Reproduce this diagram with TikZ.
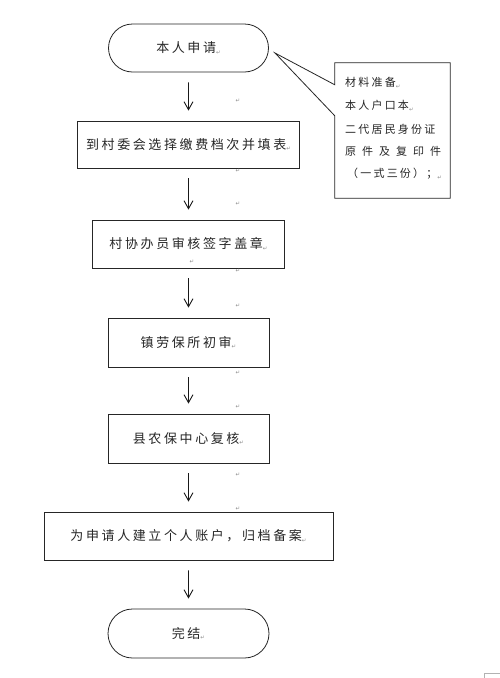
\documentclass[tikz,border=0pt]{standalone}
\usepackage{fontspec}
\usetikzlibrary{shapes.misc,arrows.meta,calc}
\newfontfamily\cjk[LetterSpace=20]{Noto Sans CJK SC}
\newfontfamily\cjknote[LetterSpace=20]{Noto Sans CJK SC}
\newfontfamily\symf{DejaVu Sans}
\newcommand\parmk{\raisebox{-1.5pt}{\textcolor{black!45}{\fontsize{5.5}{6}\selectfont\symf ↵}}}
\tikzset{
  every node/.style={text=black!85},
  term/.style={rounded rectangle, draw=black!85, line width=0.8pt, minimum width=160pt, minimum height=48pt, inner sep=0pt, font=\fontsize{13}{15}\selectfont\cjk},
  stepbox/.style={rectangle, draw=black!85, line width=0.8pt, inner sep=0pt, font=\fontsize{13}{15}\selectfont\cjk},
  arr/.style={draw=black!90, line width=0.9pt, -{Straight Barb[length=8pt,width=9pt]}, shorten <=10pt, shorten >=10pt},
  noteline/.style={anchor=west, inner sep=0pt, font=\fontsize{11}{13}\selectfont\cjknote},
  pmk/.style={inner sep=0pt, text=black!45, font=\fontsize{5.5}{6}\selectfont\symf},
}
\begin{document}
\begin{tikzpicture}[x=1pt,y=-1pt]
\useasboundingbox[fill=white] (0,0) rectangle (500,678);

\node[term] (start) at (188.5,48) {本人申请\parmk};
\node[stepbox, minimum width=222pt, minimum height=47pt] (b2) at (188.5,144.5) {到村委会选择缴费档次并填表\parmk};
\node[stepbox, minimum width=192pt, minimum height=48pt] (b3) at (188.5,244) {村协办员审核签字盖章\parmk};
\node[stepbox, minimum width=161pt, minimum height=49pt] (b4) at (188.5,342.5) {镇劳保所初审\parmk};
\node[stepbox, minimum width=161pt, minimum height=49pt] (b5) at (188.5,438.5) {县农保中心复核\parmk};
\node[stepbox, minimum width=289pt, minimum height=48pt] (b6) at (188.5,536) {为申请人建立个人账户，归档备案\parmk};
\node[term, minimum width=161pt, minimum height=49pt] (end) at (188.5,633.5) {完结\parmk};

\draw[arr] (start) -- (b2);
\draw[arr] (b2) -- (b3);
\draw[arr] (b3) -- (b4);
\draw[arr] (b4) -- (b5);
\draw[arr] (b5) -- (b6);
\draw[arr] (b6) -- (end);

% callout
\node[minimum width=115pt, minimum height=135pt, inner sep=0pt] (note) at (392.5,130.5) {};
\coordinate (tip) at (275,53);
\draw[black!85, line width=0.8pt, line join=miter]
  ($(note.north west)+(0,22)$) -- (note.north west) -- (note.north east) -- (note.south east) -- (note.south west)
  -- ($(note.north west)+(0,53)$) -- (tip) -- cycle;
\node[noteline] (n1) at (345,83) {材料准备\parmk};
\node[noteline] (n2) at (345,106) {本人户口本\parmk};
\node[noteline] (n3) at (345,129) {二代居民身份证};
\node[noteline] (n4) at (345,151) {\makebox[96pt][s]{原\hfill 件\hfill 及\hfill 复\hfill 印\hfill 件}};
\node[noteline] (n5) at (347,174) {（一式三份）；\parmk};

% stray paragraph marks
\node[pmk] (m1) at (238,101) {↵};
\node[pmk] (m2) at (238,171) {↵};
\node[pmk] (m3) at (238,204) {↵};
\node[pmk] (m4) at (192,262) {↵};
\node[pmk] (m5) at (238,271) {↵};
\node[pmk] (m6) at (238,306) {↵};
\node[pmk] (m7) at (238,373) {↵};
\node[pmk] (m8) at (238,407) {↵};
\node[pmk] (m9) at (238,475) {↵};
\node[pmk] (m10) at (238,509) {↵};

% corner mark
\draw[black!30, line width=0.6pt] (484,678) -- (484,673) -- (500,673);
\end{tikzpicture}
\end{document}
